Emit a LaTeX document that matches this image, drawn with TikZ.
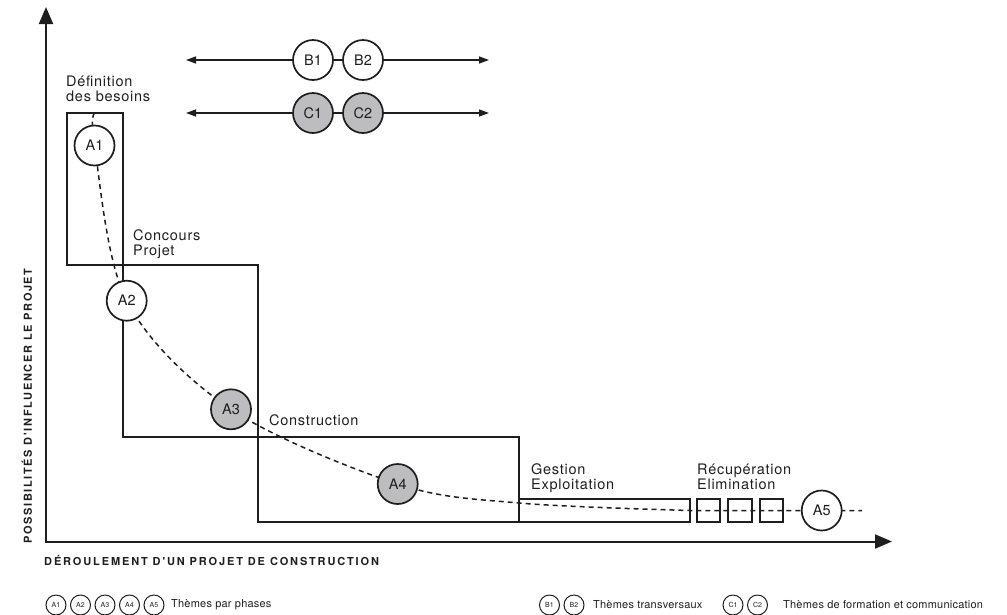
\documentclass[tikz,border=0pt]{standalone}
\usepackage{fontspec}
\setmainfont{TeX Gyre Heros}
\newfontfamily\trk{TeX Gyre Heros}[LetterSpace=5]
\newfontfamily\trkl{TeX Gyre Heros}[LetterSpace=2]
\newfontfamily\trkb{TeX Gyre Heros}[LetterSpace=15,BoldFont={* Bold}]
\newfontfamily\trkx{TeX Gyre Heros}[LetterSpace=17,BoldFont={* Bold}]
\usetikzlibrary{arrows.meta}
\definecolor{ink}{HTML}{1E1E1E}
\definecolor{cgray}{HTML}{BDBDBF}
\begin{document}
\begin{tikzpicture}[x=1pt,y=-1pt, color=ink,
  lbl/.style={font=\trk\fontsize{14.5}{15}\selectfont, inner sep=0, align=left, anchor=base west},
  circ/.style={circle, draw, line width=1.7pt, minimum size=40pt, inner sep=0, fill=white, font=\fontsize{14.5}{15}\selectfont},
  shaded/.style={fill=cgray},
  phase/.style={line width=1.6pt},
  curve/.style={dash pattern=on 5pt off 4pt, line width=1.5pt},
  tarrow/.style={line width=1.4pt, {Triangle[length=10pt,width=7pt]}-{Triangle[length=10pt,width=7pt]}},
  axis/.style={line width=2pt, {Triangle[length=17pt,width=14pt]}-{Triangle[length=17pt,width=14pt]}},
  axlbl/.style={font=\trkb\bfseries\fontsize{11}{13}\selectfont, inner sep=0},
  axlblx/.style={font=\trkx\bfseries\fontsize{11}{13}\selectfont, inner sep=0},
  legc/.style={circle, draw, line width=1pt, minimum size=20pt, inner sep=0, fill=white, font=\fontsize{7}{7}\selectfont},
  legt/.style={font=\trkl\fontsize{11}{12}\selectfont, inner sep=0, anchor=west}
]
\useasboundingbox (0,0) rectangle (1007,614);

% axes
\coordinate (O) at (46,541.5);
\coordinate (ytip) at (46,7);
\coordinate (xtip) at (892,541.5);
\draw[axis] (ytip) -- (O) -- (xtip);
\node[axlbl, rotate=90] (ylab) at (27,406) {POSSIBILITÉS D'INFLUENCER LE PROJET};
\node[axlblx, anchor=west] (xlab) at (44,560) {DÉROULEMENT D'UN PROJET DE CONSTRUCTION};

% phase boxes
\draw[phase] (67,113) rectangle (123,265);
\draw[phase] (123,265) rectangle (258,437);
\draw[phase] (258,437) rectangle (519,522);
\draw[phase] (519,499) rectangle (690,522);
\draw[phase] (697,499) rectangle (720,522);
\draw[phase] (728,499) rectangle (752,522);
\draw[phase] (760,499) rectangle (783,522);

% phase labels (anchored at the baseline of the last line)
\node[lbl] (tdef) at (66,101) {Définition\\des besoins};
\node[lbl] (tcon) at (133,255) {Concours\\Projet};
\node[lbl] (tcst) at (269,425) {Construction};
\node[lbl] (tges) at (531,489) {Gestion\\Exploitation};
\node[lbl] (trec) at (697,489) {Récupération\\Elimination};

% curve
\coordinate (p0) at (94.5,113);
\coordinate (c1) at (94.5,145.5);
\coordinate (c2) at (126.7,300.7);
\coordinate (c3) at (231,409.3);
\coordinate (c4) at (397.7,484);
\coordinate (k1) at (519,503);
\coordinate (k2) at (690,510.5);
\coordinate (c5) at (821.7,510.5);
\coordinate (pend) at (862,510.5);
\draw[curve] plot[smooth, tension=0.55] coordinates {(p0) (c1) (c2) (c3) (c4) (k1) (k2)} -- (c5) -- (pend);

\node[circ] (A1) at (c1) {A1};
\node[circ] (A2) at (c2) {A2};
\node[circ, shaded] (A3) at (c3) {A3};
\node[circ, shaded] (A4) at (c4) {A4};
\node[circ] (A5) at (c5) {A5};

% transversal themes
\coordinate (bl) at (186,60);
\coordinate (br) at (489,60);
\coordinate (cl) at (186,113);
\coordinate (cr) at (489,113);
\draw[tarrow] (bl) -- (br);
\draw[tarrow] (cl) -- (cr);
\node[circ] (B1) at (313,60) {B1};
\node[circ] (B2) at (363,60) {B2};
\node[circ, shaded] (C1) at (313,113) {C1};
\node[circ, shaded] (C2) at (363,113) {C2};

% legend
\node[legc] (la1) at (56,605) {A1};
\node[legc] (la2) at (80.5,605) {A2};
\node[legc] (la3) at (105,605) {A3};
\node[legc] (la4) at (129.5,605) {A4};
\node[legc] (la5) at (154,605) {A5};
\node[legt] (lta) at (171,605) {Thèmes par phases};
\node[legc] (lb1) at (549.5,605) {B1};
\node[legc] (lb2) at (574,605) {B2};
\node[legt] (ltb) at (593,605) {Thèmes transversaux};
\node[legc] (lc1) at (733,605) {C1};
\node[legc] (lc2) at (757.5,605) {C2};
\node[legt] (ltc) at (783,605) {Thèmes de formation et communication};
\end{tikzpicture}
\end{document}
